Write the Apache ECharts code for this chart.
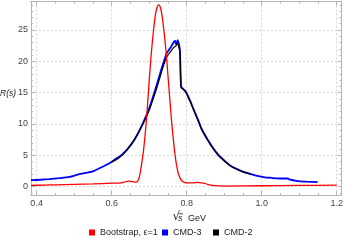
<!DOCTYPE html>
<html><head><meta charset="utf-8">
<script src="https://cdn.jsdelivr.net/npm/echarts@6/dist/echarts.min.js"></script>
<style>html,body{margin:0;padding:0;background:#fff}#c{width:346px;height:242px}</style>
</head><body><div id="c"></div>
<script>
// Bootstrap, eps=1 (red)
const bootX = [0.385,0.42,0.45,0.5,0.55,0.6,0.62,0.632,0.645,0.655,0.665,0.672,0.677,0.681,0.685,0.69,0.695,0.70,0.705,0.71,0.715,0.72,0.725,0.73,0.735,0.74,0.745,0.75,0.755,0.76,0.765,0.77,0.775,0.78,0.785,0.79,0.80,0.815,0.83,0.845,0.86,0.875,0.9,1.0,1.1,1.2];
const bootY = [0.2,0.25,0.3,0.38,0.45,0.55,0.58,0.7,0.9,0.8,0.7,1.2,2.5,4.1,5.8,8.8,12.5,16.8,20.8,24.0,26.7,28.4,29.0,28.6,27.0,24.5,21.5,17.8,14.0,10.3,7.2,4.6,2.8,1.7,1.1,0.8,0.6,0.6,0.7,0.55,0.3,0.15,0.1,0.15,0.2,0.25];
// CMD-3 (blue)
const cmd3X = [0.385,0.41,0.434,0.46,0.487,0.513,0.53,0.548,0.566,0.58,0.593,0.61,0.625,0.641,0.66,0.68,0.70,0.72,0.735,0.747,0.758,0.765,0.769,0.772,0.776,0.779,0.782,0.785,0.79,0.797,0.81,0.818,0.83,0.84,0.856,0.87,0.884,0.9,0.919,0.94,0.963,0.985,1.008,1.018,1.022,1.03,1.05,1.07,1.073,1.096,1.12,1.149];
const cmd3Y = [1.05,1.1,1.2,1.35,1.55,2.0,2.2,2.4,2.9,3.3,3.7,4.4,5.0,5.9,7.4,9.7,12.5,16.2,19.2,21.3,22.3,23.0,23.3,22.7,23.4,22.8,21.8,16.0,15.6,15.2,13.6,12.4,10.7,9.2,7.5,6.2,5.1,4.2,3.25,2.65,2.15,1.75,1.48,1.42,1.45,1.35,1.3,1.3,1.15,0.9,0.8,0.72];
// CMD-2 (black)
const cmd2X = [0.6,0.62,0.64,0.66,0.68,0.70,0.72,0.735,0.745,0.755,0.765,0.772,0.776,0.779,0.782,0.785,0.79,0.797,0.81,0.818,0.83,0.84,0.856,0.87,0.884,0.9,0.919,0.94,0.96,0.97];
const cmd2Y = [3.9,4.6,5.8,7.5,9.6,12.2,15.7,18.7,20.5,21.4,22.2,22.5,23.0,22.3,21.5,15.8,15.6,15.2,13.5,12.3,10.6,9.1,7.4,6.1,5.0,4.1,3.2,2.6,2.15,2.0];
// ticks
const xMajor = [0.4,0.6,0.8,1.0,1.2];
const xMinor = [0.4,0.45,0.5,0.55,0.6,0.65,0.7,0.75,0.8,0.85,0.9,0.95,1.0,1.05,1.1,1.15,1.2];
const yMajor = [0,5,10,15,20,25];
const yMinor = [-1,0,1,2,3,4,5,6,7,8,9,10,11,12,13,14,15,16,17,18,19,20,21,22,23,24,25,26,27,28,29];
const names = ['Bootstrap, \u03B5=1','CMD-3','CMD-2'];
const colors = ['#ff0000','#0000ff','#000000'];

const X0 = 0.385, X1 = 1.213, Y0 = -1.33, Y1 = 29.55;
const frame = '#b4b4b4';
const font = 'Liberation Sans, Arial, sans-serif';
function xa(pos, vals, len, labels, split){
  return {type:'value', position:pos, min:X0, max:X1,
    axisLine:{show:true,onZero:false,lineStyle:{color:frame,width:1}},
    axisTick:{show:true,inside:true,length:len,customValues:vals,lineStyle:{color:frame}},
    axisLabel:{show:labels,customValues:xMajor,fontSize:9,color:'#444',fontFamily:font,margin:4,
      formatter:v=>v.toFixed(1)},
    splitLine:{show:split,lineStyle:{color:'#d8d8d8',type:[2,2]}}};
}
function ya(pos, vals, len, labels, split){
  return {type:'value', position:pos, min:Y0, max:Y1,
    axisLine:{show:true,onZero:false,lineStyle:{color:frame,width:1}},
    axisTick:{show:true,inside:true,length:len,customValues:vals,lineStyle:{color:frame}},
    axisLabel:{show:labels,customValues:yMajor,fontSize:9,color:'#444',fontFamily:font,margin:3},
    splitLine:{show:split,lineStyle:{color:'#d8d8d8',type:[2,2]}}};
}
const zip=(a,b)=>a.map((v,i)=>[v,b[i]]);
const chart = echarts.init(document.getElementById('c'),null,{renderer:'canvas'});
const legendLeft=[89,162,213];
chart.setOption({
  animation:false,
  grid:{left:31,right:2,top:1.5,bottom:47,containLabel:false},
  xAxis:[xa('bottom',xMajor,4,true,true), xa('bottom',xMinor,2,false,false),
         xa('top',xMajor,4,false,false), xa('top',xMinor,2,false,false)],
  yAxis:[ya('left',yMajor,4,true,true), ya('left',yMinor,2,false,false),
         ya('right',yMajor,4,false,false), ya('right',yMinor,2,false,false)],
  legend: names.map((n,i)=>({data:[n],left:legendLeft[i],top:228,padding:0,icon:'rect',itemWidth:6,itemHeight:6,
    textStyle:{fontSize:9,color:'#222',fontFamily:font}})),
  series:[
    {name:names[1],type:'line',data:zip(cmd3X,cmd3Y),showSymbol:false,smooth:0.2,lineStyle:{color:colors[1],width:1.8},itemStyle:{color:colors[1]},z:2},
    {name:names[2],type:'line',data:zip(cmd2X,cmd2Y),showSymbol:false,smooth:0.2,lineStyle:{color:colors[2],width:1.2},itemStyle:{color:colors[2]},z:3},
    {name:names[0],type:'line',data:zip(bootX,bootY),showSymbol:false,smooth:0.3,lineStyle:{color:colors[0],width:1.3},itemStyle:{color:colors[0]},z:4}
  ],
  graphic:[
    {type:'text',left:0,top:89,style:{text:'R(s)',font:'italic 8.5px '+font,fill:'#222'}},
    {type:'text',left:172.5,top:211,style:{text:'\u221A',font:'12px DejaVu Sans',fill:'#222'}},
    {type:'line',shape:{x1:178.5,y1:213.8,x2:183,y2:213.8},style:{stroke:'#222',lineWidth:0.8}},
    {type:'text',left:178,top:214,style:{text:'s',font:'italic 9px '+font,fill:'#222'}},
    {type:'text',left:188,top:214,style:{text:'GeV',font:'9px '+font,fill:'#222'}}
  ]
});
</script></body></html>
